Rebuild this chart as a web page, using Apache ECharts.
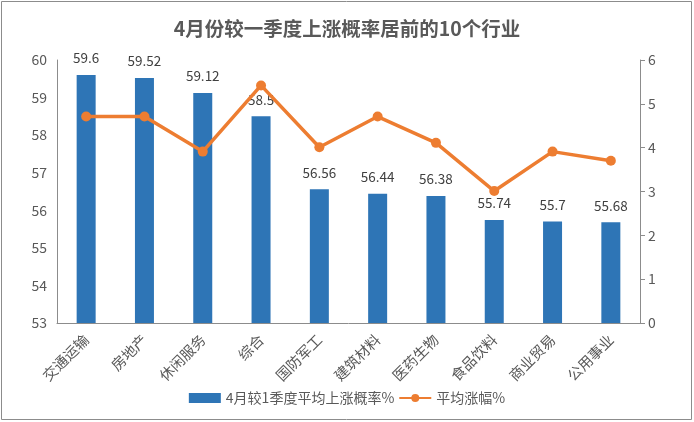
<!DOCTYPE html>
<html><head><meta charset="utf-8">
<script src="https://cdn.jsdelivr.net/npm/echarts@6/dist/echarts.min.js"></script>
<style>html,body{margin:0;padding:0;background:#fff}#c{width:694px;height:422px}</style>
</head><body><div id="c"></div>
<script>
const categories = ['交通运输','房地产','休闲服务','综合','国防军工','建筑材料','医药生物','食品饮料','商业贸易','公用事业'];
const probValues = [59.6, 59.52, 59.12, 58.5, 56.56, 56.44, 56.38, 55.74, 55.7, 55.68];
const avgRise = [4.71, 4.71, 3.91, 5.42, 4.01, 4.71, 4.11, 3.01, 3.91, 3.70];
const barName = '4月较1季度平均上涨概率%';
const lineName = '平均涨幅%';
const titleText = '4月份较一季度上涨概率居前的10个行业';

const font = '"Noto Sans CJK SC", "Noto Sans", sans-serif';
const chart = echarts.init(document.getElementById('c'), null, {renderer: 'canvas'});
chart.setOption({
  animation: false,
  backgroundColor: '#fff',
  textStyle: {fontFamily: font},
  title: {text: titleText, left: 'center', top: 14,
    textStyle: {fontSize: 19.5, fontWeight: 'bold', color: '#595959', fontFamily: font}},
  graphic: [{type: 'rect', shape: {x: 1.5, y: 1.5, width: 690, height: 418},
    style: {fill: 'none', stroke: '#8c8c8c', lineWidth: 1}, z: 100}],
  legend: {bottom: 12, left: 'center', itemGap: 4, itemWidth: 32, itemHeight: 10,
    textStyle: {fontSize: 14, color: '#595959', fontFamily: font},
    data: [{name: barName, icon: 'rect'}, {name: lineName}]},
  grid: {left: 57, right: 54, top: 60, bottom: 99, containLabel: false},
  xAxis: {type: 'category', data: categories,
    axisLine: {show: true, lineStyle: {color: '#8c8c8c'}},
    axisTick: {show: false},
    axisLabel: {rotate: 45, fontSize: 14.5, color: '#595959', interval: 0, margin: 14, fontFamily: font}},
  yAxis: [
    {type: 'value', min: 53, max: 60, interval: 1,
      axisLine: {show: true, lineStyle: {color: '#8c8c8c'}},
      axisTick: {show: false}, splitLine: {show: false},
      axisLabel: {fontSize: 14, color: '#595959', margin: 10}},
    {type: 'value', min: 0, max: 6, interval: 1, position: 'right',
      axisLine: {show: true, lineStyle: {color: '#8c8c8c'}},
      axisTick: {show: true, inside: false, length: 5, lineStyle: {color: '#8c8c8c'}},
      splitLine: {show: false},
      axisLabel: {fontSize: 14, color: '#595959', margin: 8}}
  ],
  series: [
    {name: barName, type: 'bar', data: probValues, barWidth: 19, yAxisIndex: 0,
      itemStyle: {color: '#2e75b6'},
      label: {show: true, position: 'top', distance: 10, fontSize: 13.5, color: '#404040', fontFamily: font}},
    {name: lineName, type: 'line', data: avgRise, yAxisIndex: 1,
      symbol: 'circle', symbolSize: 10,
      lineStyle: {color: '#ed7d31', width: 3.5},
      itemStyle: {color: '#ed7d31'}, z: 5}
  ]
});
</script></body></html>
